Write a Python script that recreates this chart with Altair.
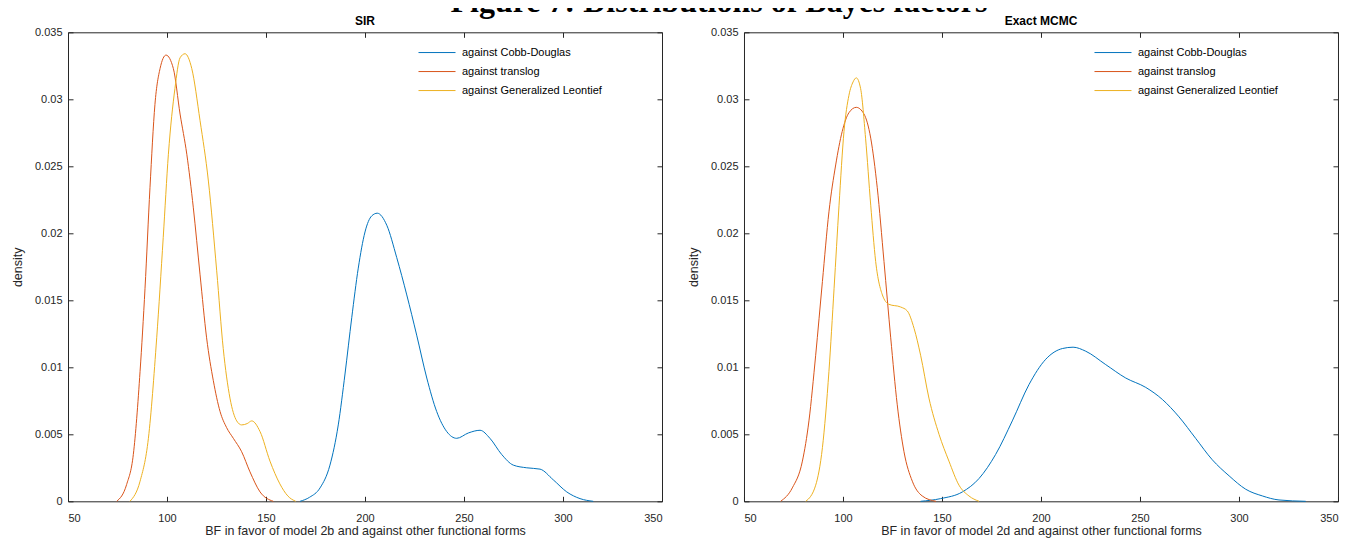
import altair as alt
import pandas as pd

# ---------------- data ----------------
series_names = ["against Cobb-Douglas", "against translog", "against Generalized Leontief"]
series_colors = ["#0072BD", "#D95319", "#EDB120"]

x_ticks = [50, 100, 150, 200, 250, 300, 350]
y_ticks = [0, 0.005, 0.01, 0.015, 0.02, 0.025, 0.03, 0.035]

# SIR panel
sir_cd_x = [167.2, 172, 177.3, 182.3, 186.5, 189.9, 193.3, 196.6, 200, 203.4, 206.2, 211, 216, 221.1,
            226.1, 231.2, 236.2, 241.3, 246.3, 252.2, 258.1, 263.1, 269, 274.9, 281.7, 288.4, 295.1,
            301.9, 308.6, 315.3]
sir_cd_y = [0, 0.0003, 0.0010, 0.0027, 0.0057, 0.0095, 0.0137, 0.0174, 0.0201, 0.0213, 0.0215, 0.0206,
            0.0182, 0.0154, 0.0124, 0.0092, 0.0067, 0.0052, 0.0047, 0.0051, 0.0053, 0.0047, 0.0035,
            0.0027, 0.0025, 0.0024, 0.0016, 0.0007, 0.0002, 0]

sir_tl_x = [74.6, 79.6, 83, 86.4, 88.9, 91.4, 93.9, 96.5, 99.5, 103.2, 106.6, 110, 113.3, 116.7, 120,
            123.4, 126.8, 130.1, 133.5, 137.7, 141.9, 147, 153.7]
sir_tl_y = [0, 0.00125, 0.0035, 0.0097, 0.0159, 0.0234, 0.0296, 0.0323, 0.0333, 0.0323, 0.0289, 0.0259,
            0.0219, 0.0169, 0.0122, 0.0090, 0.0067, 0.0055, 0.0047, 0.0037, 0.0022, 0.0007, 0]

sir_gl_x = [81.3, 86.4, 90.6, 94.8, 98.1, 100.7, 104, 106.6, 109.1, 112.5, 116.7, 120.9, 125.1, 128.4,
            131.8, 135.2, 137.7, 140.5, 142.8, 147, 152, 157, 161, 165]
sir_gl_y = [0, 0.0015, 0.0047, 0.0122, 0.0197, 0.0259, 0.0308, 0.0331, 0.0334, 0.0323, 0.0284, 0.0239,
            0.0172, 0.0114, 0.0077, 0.0060, 0.0057, 0.0058, 0.0060, 0.0052, 0.0030, 0.0013, 0.0004, 0]

# Exact MCMC panel
mc_cd_x = [139.2, 149.3, 160.3, 168.7, 177.1, 185.5, 193.9, 202.4, 210.8, 216.2, 222.6, 232.7, 242.8,
           252.9, 261.3, 269.7, 278.1, 286.5, 295, 303.4, 311.8, 320.2, 333.7]
mc_cd_y = [0, 0.0002, 0.0007, 0.0017, 0.0035, 0.0060, 0.0087, 0.0106, 0.0114, 0.0115, 0.0112, 0.0102,
           0.0092, 0.0085, 0.0076, 0.0063, 0.0047, 0.0031, 0.0019, 0.0009, 0.0004, 0.0001, 0]

mc_tl_x = [68.5, 74.4, 79.5, 82.8, 86.2, 89.6, 92.9, 96.3, 99.6, 103, 106.7, 110.6, 114, 117.3, 120.7,
           124.1, 127.4, 130.8, 135, 140, 147]
mc_tl_y = [0, 0.0010, 0.0030, 0.0060, 0.0109, 0.0164, 0.0216, 0.0251, 0.0276, 0.0290, 0.0294, 0.0289,
           0.0271, 0.0234, 0.0179, 0.0122, 0.0072, 0.0037, 0.0015, 0.0004, 0]

mc_gl_x = [81.2, 86.2, 89.6, 92.9, 95.5, 98, 100.5, 103, 105.1, 106.7, 108.9, 111.4, 114, 116.5, 119.9,
           123.2, 129.1, 132.5, 135.9, 139.2, 143.4, 148.5, 153.5, 158.6, 163.6, 168.7]
mc_gl_y = [0, 0.0012, 0.0040, 0.0097, 0.0159, 0.0221, 0.0276, 0.0303, 0.0313, 0.0316, 0.0308, 0.0271,
           0.0221, 0.0179, 0.0154, 0.0147, 0.0145, 0.0142, 0.0129, 0.0109, 0.0077, 0.0050, 0.0030,
           0.0012, 0.0004, 0]


def make_df(parts):
    rows = []
    for name, xs, ys in parts:
        for i, (xv, yv) in enumerate(zip(xs, ys)):
            rows.append({"series": name, "x": xv, "density": yv, "order": i})
    return pd.DataFrame(rows)


sir_df = make_df([(series_names[0], sir_cd_x, sir_cd_y),
                  (series_names[1], sir_tl_x, sir_tl_y),
                  (series_names[2], sir_gl_x, sir_gl_y)])
mc_df = make_df([(series_names[0], mc_cd_x, mc_cd_y),
                 (series_names[1], mc_tl_x, mc_tl_y),
                 (series_names[2], mc_gl_x, mc_gl_y)])

W = 594
H = 469
AX = "#262626"
SANS = "Liberation Sans"


def axis(**kw):
    base = dict(grid=False, domainColor=AX, tickColor=AX, domainWidth=1, tickWidth=1,
                labelFont=SANS, labelFontSize=11, labelColor=AX,
                titleFont=SANS, titleFontSize=12.5, titleFontWeight="normal", titleColor=AX)
    base.update(kw)
    return alt.Axis(**base)


def panel(df, title, xlabel):
    xs = alt.Scale(domain=[50, 350], nice=False, zero=False)
    ys = alt.Scale(domain=[0, 0.035], nice=False, zero=False)
    base = alt.Chart(df)
    lines = base.mark_line(strokeWidth=1, interpolate="monotone").encode(
        x=alt.X("x:Q", scale=xs,
                axis=axis(orient="bottom", values=x_ticks, ticks=False, labelPadding=11,
                          title=xlabel, titlePadding=1, domain=True)),
        y=alt.Y("density:Q", scale=ys,
                axis=axis(orient="left", values=y_ticks, format="~g", ticks=False,
                          labelPadding=6, title="density", titlePadding=10, domain=True)),
        color=alt.Color("series:N",
                        scale=alt.Scale(domain=series_names, range=series_colors),
                        legend=alt.Legend(orient="none", legendX=350, legendY=11, title=None,
                                          symbolType="stroke", symbolSize=1369,
                                          symbolStrokeWidth=1, clipHeight=18.5,
                                          labelFontSize=11, labelFont=SANS, labelColor="#000",
                                          labelOffset=6, rowPadding=0, padding=0)),
        order="order:Q",
    )
    # inward ticks on bottom and left edges
    ghost1 = base.mark_point(opacity=0).encode(
        x=alt.X("x:Q", scale=xs,
                axis=axis(orient="top", offset=-H, values=x_ticks, labels=False,
                          domain=False, ticks=True, tickSize=5, title=None)),
        y=alt.Y("density:Q", scale=ys,
                axis=axis(orient="right", offset=-W, values=y_ticks, labels=False,
                          domain=False, ticks=True, tickSize=5, title=None)),
    )
    # top and right box edges with inward ticks
    ghost2 = base.mark_point(opacity=0).encode(
        x=alt.X("x:Q", scale=xs,
                axis=axis(orient="bottom", offset=-H, values=x_ticks, labels=False,
                          domain=True, ticks=True, tickSize=5, title=None)),
        y=alt.Y("density:Q", scale=ys,
                axis=axis(orient="left", offset=-W, values=y_ticks, labels=False,
                          domain=True, ticks=True, tickSize=5, title=None)),
    )
    return alt.layer(lines, ghost1, ghost2).resolve_axis(
        x="independent", y="independent"
    ).properties(
        width=W, height=H,
        title=alt.TitleParams(text=title, fontSize=12, fontWeight="bold", font=SANS,
                              color="#000", anchor="middle", offset=-2),
    )


left = panel(sir_df, "SIR", "BF in favor of model 2b and against other functional forms")
right = panel(mc_df, "Exact MCMC", "BF in favor of model 2d and against other functional forms")

chart = alt.hconcat(left, right, spacing=24).resolve_scale(
    color="independent"
).resolve_legend(
    color="independent"
).properties(
    title=alt.TitleParams(text="Figure 7: Distributions of Bayes factors",
                          font="Liberation Serif", fontSize=32, fontWeight="bold",
                          color="#000", anchor="middle", offset=-3.3, dx=44),
    padding={"left": 3, "top": -22.7, "right": 0, "bottom": 4},
    background="white",
).configure_view(
    stroke=None
)

chart.save("out.html", embed_options={"renderer": "svg", "actions": False})
